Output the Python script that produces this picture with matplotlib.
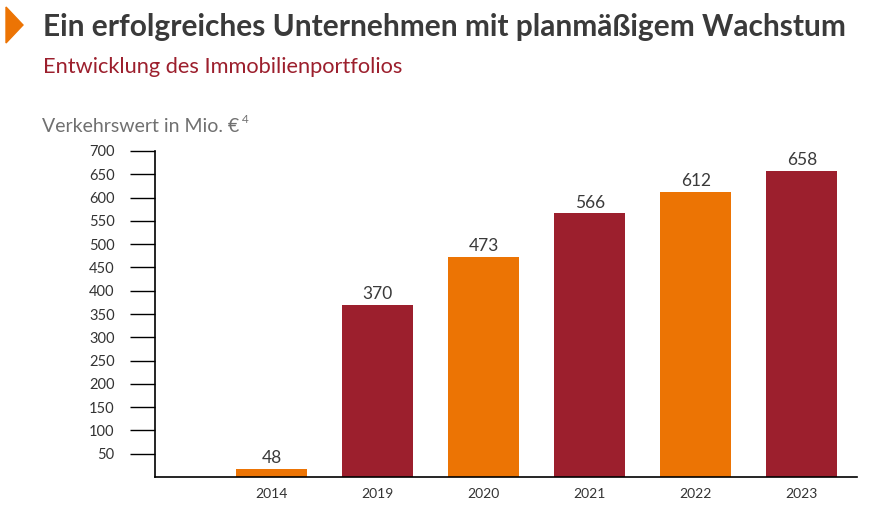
import matplotlib
matplotlib.use("Agg")
import matplotlib.pyplot as plt
from matplotlib.patches import Polygon

years = ["2014", "2019", "2020", "2021", "2022", "2023"]
bar_heights = [18, 370, 473, 566, 612, 658]
bar_labels = ["48", "370", "473", "566", "612", "658"]
yticks = [50, 100, 150, 200, 250, 300, 350, 400, 450, 500, 550, 600, 650, 700]

RED = "#9C1F2D"
ORANGE = "#EC7404"
colors = [ORANGE, RED, ORANGE, RED, ORANGE, RED]

plt.rcParams['font.family'] = ['Lato', 'DejaVu Sans']

W, H = 873, 519
fig = plt.figure(figsize=(W / 100, H / 100), dpi=100)

def fx(px):
    return px / W

def fy(py):
    return 1 - py / H

ax = fig.add_axes([fx(155), fy(477), fx(857) - fx(155), fy(151) - fy(477)])
x = list(range(1, len(years) + 1))
ax.bar(x, bar_heights, width=0.67, color=colors)
for xi, h, lab in zip(x, bar_heights, bar_labels):
    ax.text(xi, h + 6, lab, ha="center", va="bottom", fontsize=12.5, color="#3a3a3a")

ax.set_xlim(-0.1, 6.52)
ax.set_ylim(0, 700)
ax.set_yticks(yticks)
ax.set_yticklabels([str(v) for v in yticks])
ax.set_xticks(x)
ax.set_xticklabels(years)
ax.tick_params(axis="y", length=18, width=1, pad=11, labelsize=10.5, labelcolor="#333333", color="black")
ax.tick_params(axis="x", length=0, pad=8, labelsize=10, labelcolor="#333333")
for s in ["top", "right"]:
    ax.spines[s].set_visible(False)
for s in ["left", "bottom"]:
    ax.spines[s].set_linewidth(1.2)
    ax.spines[s].set_color("black")

# header
tri = Polygon([[fx(6), fy(7)], [fx(6), fy(43)], [fx(23), fy(25)]], closed=True,
              transform=fig.transFigure, color=ORANGE)
fig.patches.append(tri)
fig.text(fx(43), fy(36), "Ein erfolgreiches Unternehmen mit planmäßigem Wachstum",
         fontsize=21.5, fontweight="bold", color="#3a3a3a", ha="left", va="baseline")
fig.text(fx(43), fy(73), "Entwicklung des Immobilienportfolios",
         fontsize=15.7, color="#9C1F2D", ha="left", va="baseline")
fig.text(fx(42), fy(132), "Verkehrswert in Mio. €",
         fontsize=14, color="#707070", ha="left", va="baseline")
fig.text(fx(242), fy(123), "4",
         fontsize=8.5, color="#707070", ha="left", va="baseline")

fig.savefig("out.png", dpi=100)
